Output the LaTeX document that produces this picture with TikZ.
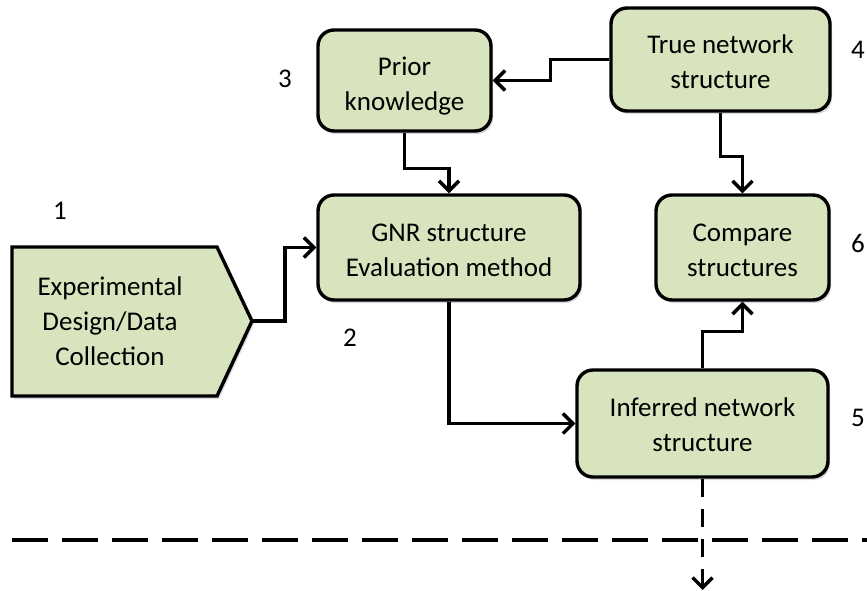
\documentclass[tikz,border=0pt]{standalone}
\usepackage{fontspec}
\setmainfont{Carlito}
\usetikzlibrary{arrows.meta,shadows}
\definecolor{boxfill}{RGB}{215,228,189}
\newcommand\lowered[1]{\rule{0pt}{#1}}
\tikzset{
  box/.style={draw=black, line width=3.4pt, rounded corners=16pt, fill=boxfill,
    align=center, font=\fontsize{27}{35}\selectfont, inner sep=0pt,
    drop shadow={shadow xshift=2pt, shadow yshift=-3pt, opacity=0.3}},
  arr/.style={line width=3.4pt, -{Straight Barb[length=10pt,width=20pt]}},
  num/.style={font=\fontsize{27}{32}\selectfont},
  sep/.style={line width=4pt, dash pattern=on 36pt off 14pt},
  vdash/.style={line width=3.5pt, dash pattern=on 18pt off 12pt, -{Straight Barb[length=10pt,width=20pt]}},
}
\begin{document}
\begin{tikzpicture}[x=1pt,y=-1pt]
\useasboundingbox (0,0) rectangle (867,591);
% boxes
\node[box, minimum width=173pt, minimum height=101pt] (prior) at (404.5,80.5) {\lowered{30pt}Prior\\knowledge};
\node[box, minimum width=219pt, minimum height=103pt] (true) at (720.5,59.5) {\lowered{23pt}True network\\structure};
\node[box, minimum width=262pt, minimum height=105pt] (gnr) at (449,247.5) {\lowered{24pt}GNR structure\\Evaluation method};
\node[box, minimum width=173pt, minimum height=105pt] (compare) at (742.5,247.5) {\lowered{23pt}Compare\\structures};
\node[box, minimum width=251pt, minimum height=107pt] (inferred) at (702.5,423.5) {\lowered{21pt}Inferred network\\structure};
% pentagon
\filldraw[draw=black, line width=3.4pt, fill=boxfill, line join=miter,
  drop shadow={shadow xshift=2pt, shadow yshift=-3pt, opacity=0.3}]
  (12,247) -- (217,247) -- (252,321) -- (217,396) -- (12,396) -- cycle;
\node[align=center, font=\fontsize{27}{35}\selectfont] (exp) at (110,321) {Experimental\\Design/Data\\Collection};
\coordinate (exptip) at (252,321);
% numbers
\node[num] (n1) at (60,211) {1};
\node[num] (n2) at (350,338) {2};
\node[num] (n3) at (285,79) {3};
\node[num] (n4) at (858,50) {4};
\node[num] (n5) at (858,418) {5};
\node[num] (n6) at (858,243) {6};
% connectors
\draw[arr] (true.west) -- ++(-59,0) |- (prior.east);
\draw[arr] (prior.south) -- ++(0,36) -| (gnr.north);
\draw[arr] (exptip) -- ++(33,0) |- (gnr.west);
\draw[arr] (gnr.south) |- (inferred.west);
\draw[arr] (true.south) -- ++(0,44) -| (compare.north);
\draw[arr] (inferred.north) -- ++(0,-37) -| (compare.south);
% separator and outgoing dashed arrow
\coordinate (dl) at (12,540);
\coordinate (dr) at (867,540);
\draw[sep] (dl) -- (dr);
\coordinate (down) at (702.5,590);
\draw[vdash] (inferred.south) -- (down);
\end{tikzpicture}
\end{document}
